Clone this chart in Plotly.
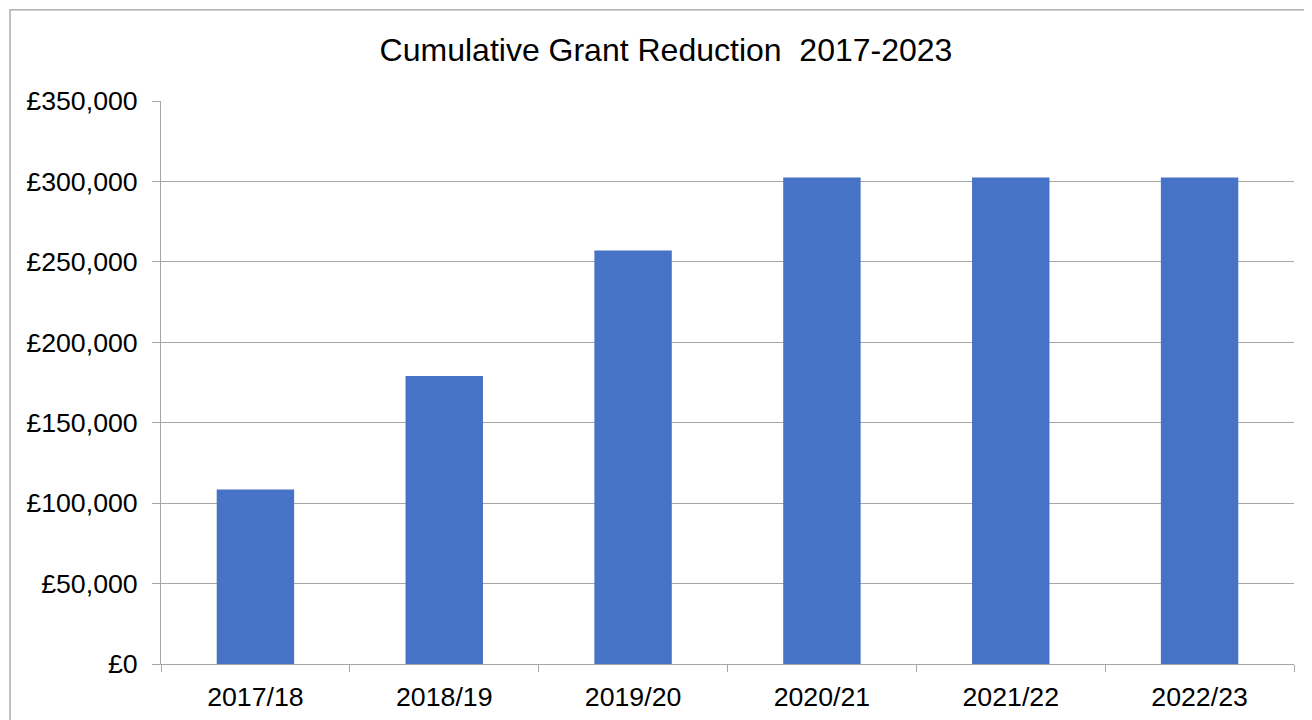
import plotly.graph_objects as go

categories = ["2017/18", "2018/19", "2019/20", "2020/21", "2021/22", "2022/23"]
values = [108500, 179000, 257000, 302500, 302500, 302500]
y_ticks = [0, 50000, 100000, 150000, 200000, 250000, 300000, 350000]
y_tick_labels = ["£0", "£50,000", "£100,000", "£150,000", "£200,000",
                 "£250,000", "£300,000", "£350,000"]

FONT = "Liberation Sans, Arial, sans-serif"
GRID = "#A6A6A6"

fig = go.Figure()
fig.add_trace(go.Bar(
    x=categories, y=values,
    marker=dict(color="#4673C6", line=dict(width=0)),
    width=0.41,
))

# page body adds an 8px offset, so positions are compensated
fig.update_layout(
    width=1312, height=720,
    paper_bgcolor="white", plot_bgcolor="white",
    margin=dict(l=153, r=26, t=93, b=64),
    showlegend=False,
    title=dict(
        text="Cumulative Grant Reduction&nbsp; 2017-2023",
        x=658 / 1312, xref="container", xanchor="center",
        y=1 - 42 / 720, yref="container", yanchor="middle",
        font=dict(family=FONT, size=32, color="black"),
    ),
    font=dict(family=FONT, color="black"),
)

fig.update_xaxes(
    type="category",
    showline=True, linecolor=GRID, linewidth=1,
    ticks="outside", ticklen=7, tickcolor=GRID, tickwidth=1,
    tickson="boundaries",
    showgrid=False,
    ticklabelstandoff=9,
    tickfont=dict(family=FONT, size=26.7, color="black"),
)
fig.update_yaxes(
    range=[0, 350000],
    tickvals=y_ticks, ticktext=y_tick_labels,
    showline=True, linecolor=GRID, linewidth=1,
    ticks="outside", ticklen=8, tickcolor=GRID, tickwidth=1,
    showgrid=True, gridcolor=GRID, gridwidth=1,
    zeroline=False,
    ticklabelstandoff=9,
    tickfont=dict(family=FONT, size=26.7, color="black"),
)

# chart-area border (extends beyond the visible window on right/bottom)
fig.add_shape(
    type="rect", xref="paper", yref="paper",
    x0=(2 - 153) / 1133, x1=1.05,
    y0=-0.2, y1=(655.5 - 2) / 562.5,
    line=dict(color="#A0A0A0", width=1.3),
    fillcolor="rgba(0,0,0,0)", layer="below",
)

fig.write_html("out.html")
